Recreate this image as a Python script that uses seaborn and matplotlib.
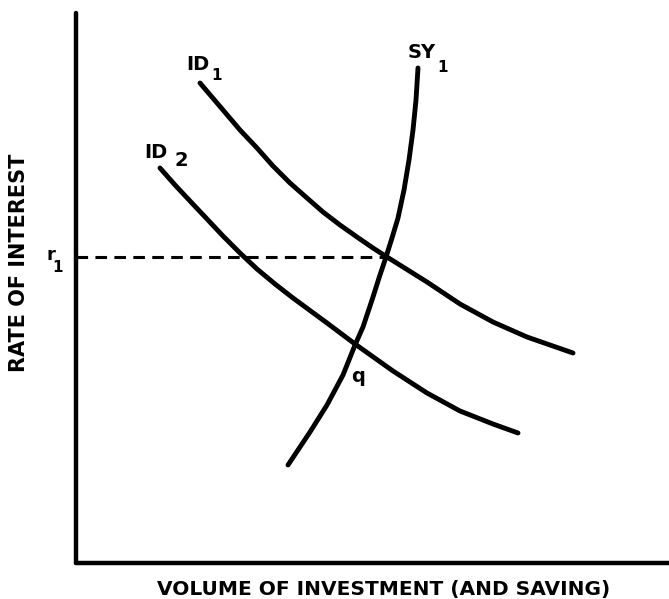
import matplotlib
matplotlib.use("Agg")
import matplotlib.pyplot as plt
import seaborn as sns
import pandas as pd

# ---- data (arbitrary units: volume vs. rate) ----
id1_x = [124, 147, 164, 181, 197, 214, 231, 247, 264, 281, 297, 311, 351, 384, 417, 451, 497]
id1_y = [480, 453, 433, 415, 397, 380, 365, 351, 338, 326, 315, 306, 281, 259, 241, 226, 210]

id2_x = [84, 99, 114, 131, 147, 164, 181, 199, 217, 251, 279, 317, 351, 384, 417, 442]
id2_y = [395, 378, 362, 344, 327, 310, 294, 279, 265, 240, 219, 192, 170, 152, 139, 130]

sy1_x = [342, 340, 337, 333, 328, 322, 316, 310, 303, 297, 287, 279, 267, 251, 234, 212]
sy1_y = [495, 463, 433, 403, 373, 345, 325, 306, 285, 266, 236, 218, 188, 158, 131, 98]

r1_level = 306
r1_x_end = 310

x_label = "VOLUME OF INVESTMENT (AND SAVING)"
y_label = "RATE OF INTEREST"

# ---- figure ----
sns.set_style("white")
plt.rcParams['font.family'] = ['DejaVu Sans']

fig = plt.figure(figsize=(6.69, 5.99), dpi=100)
W, H = 669, 599
ax = fig.add_axes([76 / W, (H - 563) / H, (W - 76) / W, (563 - 13) / H])
ax.set_xlim(0, 593)
ax.set_ylim(0, 550)

df = pd.concat([
    pd.DataFrame({"x": id1_x, "y": id1_y, "curve": "ID1"}),
    pd.DataFrame({"x": id2_x, "y": id2_y, "curve": "ID2"}),
    pd.DataFrame({"x": sy1_x, "y": sy1_y, "curve": "SY1"}),
])
sns.lineplot(data=df, x="x", y="y", units="curve", estimator=None, sort=False,
             color="black", linewidth=3.5, legend=False, ax=ax,
             solid_capstyle="round", solid_joinstyle="round")

ax.plot([0, r1_x_end], [r1_level, r1_level], color="black", linewidth=2.2,
        linestyle=(0, (3.8, 2.4)))

for s in ["top", "right"]:
    ax.spines[s].set_visible(False)
for s in ["left", "bottom"]:
    ax.spines[s].set_linewidth(3.2)
    ax.spines[s].set_color("black")
    ax.spines[s].set_capstyle("round")
ax.set_xticks([])
ax.set_yticks([])
ax.set_xlabel("")
ax.set_ylabel("")

tk = dict(color="black", fontweight="bold", ha="center", va="center")
# curve labels
ax.text(122, 499, "ID", fontsize=14, **tk)
ax.text(141, 488, "1", fontsize=11, **tk)
ax.text(80, 411, "ID", fontsize=14, **tk)
ax.text(105, 402, "2", fontsize=14, **tk)
ax.text(346, 510, "SY", fontsize=14, **tk)
ax.text(367, 496, "1", fontsize=11, **tk)
ax.text(282, 187, "q", fontsize=14, **tk)

# r1 label (outside axes, left)
fig.text(51 / W, 1 - 255 / H, "r", fontsize=13, **tk)
fig.text(58 / W, 1 - 268 / H, "1", fontsize=11, **tk)

# axis titles
fig.text(384 / W, 1 - 589 / H, x_label, fontsize=14.5, **tk)
fig.text(19 / W, 1 - 263 / H, y_label, fontsize=15, rotation=90, **tk)

fig.savefig("out.png", dpi=100, facecolor="white")
